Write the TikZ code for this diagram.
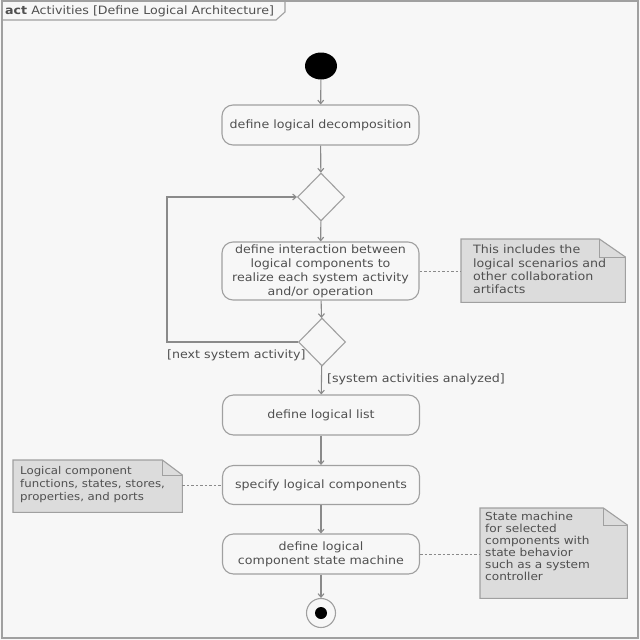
\documentclass[tikz,border=0pt]{standalone}
\usepackage{fontspec}
\setmainfont[FakeStretch=1.1]{DejaVu Sans}
\usetikzlibrary{shapes.geometric,arrows.meta}
\definecolor{bgc}{HTML}{F7F7F7}
\definecolor{linec}{HTML}{8A8A8A}
\definecolor{boxc}{HTML}{A0A0A0}
\definecolor{txtc}{HTML}{505050}
\definecolor{notefill}{HTML}{DCDCDC}
\tikzset{
  every node/.style={font=\fontsize{11.5}{14}\selectfont, text=txtc},
  actbox/.style={draw=boxc, line width=1.1pt, rounded corners=11pt, minimum width=197pt, align=center, inner sep=2pt},
  decis/.style={draw=boxc, line width=1.1pt, diamond, minimum width=47pt, minimum height=48pt, inner sep=0pt},
  flow/.style={draw=linec, line width=1.1pt, -{Straight Barb[length=3.5pt,width=6pt]}},
  anchorline/.style={draw=linec, line width=0.9pt, dash pattern=on 2.5pt off 2pt},
  notebox/.style={anchor=north west, align=left, inner ysep=0pt, minimum height=#1},
  notedraw/.style={draw=boxc, fill=notefill, line width=1.1pt},
  guard/.style={inner sep=0pt, font=\fontsize{11.5}{13}\selectfont}
}
\newcommand{\notefold}[3]{%
  \fill[notefill] (#1.south west) -- (#1.north west) -- ([xshift=-#2]#1.north east) -- ([yshift=-#3]#1.north east) -- (#1.south east) -- cycle;
  \draw[notedraw, fill=none] (#1.south west) -- (#1.north west) -- ([xshift=-#2]#1.north east) -- ([yshift=-#3]#1.north east) -- (#1.south east) -- cycle;
  \draw[notedraw, fill=none, line width=0.8pt] ([xshift=-#2]#1.north east) -- ([xshift=-#2,yshift=-#3]#1.north east) -- ([yshift=-#3]#1.north east);
}
\begin{document}
\begin{tikzpicture}[x=1pt,y=-1pt]
\fill[bgc] (0,0) rectangle (640,640);
\useasboundingbox (0,0) rectangle (640,640);
\draw[boxc, line width=1.3pt] (2,1) rectangle (638,638);
\draw[boxc, line width=1.1pt] (2,20) -- (276,20) -- (285,12) -- (285,1);
\node[anchor=west, inner sep=0pt, font=\fontsize{11.5}{13}\selectfont] (hdr) at (5,11) {\textbf{act} Activities [Define Logical Architecture]};

\node[ellipse, fill=black, minimum width=32pt, minimum height=27pt, inner sep=0pt] (init) at (321,66) {};
\node[actbox, minimum height=40pt] (a1) at (320.5,125) {define logical decomposition};
\node[decis] (d1) at (321,197) {};
\node[actbox, minimum height=58pt] (a2) at (320.5,271) {define interaction between\\logical components to\\realize each system activity\\and/or operation};
\node[decis] (d2) at (322,342) {};
\node[actbox, minimum height=40pt] (a3) at (321,415) {define logical list};
\node[actbox, minimum height=39pt] (a4) at (321,485) {specify logical components};
\node[actbox, minimum height=40pt] (a5) at (321,554) {define logical\\component state machine};
\node[circle, draw=boxc, line width=1.1pt, minimum size=29pt, inner sep=0pt] (fin) at (321,613) {};
\node[circle, fill=black, minimum size=12pt, inner sep=0pt] (finc) at (fin.center) {};

\coordinate (lp) at (167,0);
\draw[flow] (init) -- (a1);
\draw[flow] (a1) -- (d1);
\draw[flow] (d1) -- (a2);
\draw[flow] (a2) -- (d2);
\draw[flow] (d2) -- (a3);
\draw[flow] (a3) -- (a4);
\draw[flow] (a4) -- (a5);
\draw[flow] (a5) -- (fin);
\draw[flow] (d2.west) -- (d2.west -| lp) |- (d1.west);

\node[guard, anchor=west] (g1) at (167,355) {[next system activity]};
\node[guard, anchor=west] (g2) at (327,379) {[system activities analyzed]};

% notes
\node[notebox=63pt, text width=140pt, inner xsep=12pt, minimum width=164pt] (n1) at (461,239) {};
\notefold{n1}{26pt}{18pt}
\node[anchor=north west, align=left, inner sep=0pt, font=\fontsize{11.5}{13.3}\selectfont] (n1t) at (473,245) {This includes the\\logical scenarios and\\other collaboration\\artifacts};

\node[notebox=52pt, text width=155pt, inner xsep=7pt, minimum width=169pt] (n2) at (13,460) {};
\notefold{n2}{20pt}{15pt}
\node[anchor=north west, align=left, inner sep=0pt, font=\fontsize{10.7}{13.3}\selectfont] (n2t) at (20,466) {Logical component\\functions, states, stores,\\properties, and ports};

\node[notebox=90pt, text width=137pt, inner xsep=5pt, minimum width=147pt] (n3) at (480,508) {};
\notefold{n3}{24pt}{17pt}
\node[anchor=north west, align=left, inner sep=0pt, font=\fontsize{11}{12}\selectfont] (n3t) at (485,512) {State machine\\for selected\\components with\\state behavior\\such as a system\\controller};

\draw[anchorline] (a2.east) -- (a2.east -| n1.west);
\draw[anchorline] (n2.east |- a4.west) -- (a4.west);
\draw[anchorline] (a5.east) -- (a5.east -| n3.west);
\end{tikzpicture}
\end{document}
